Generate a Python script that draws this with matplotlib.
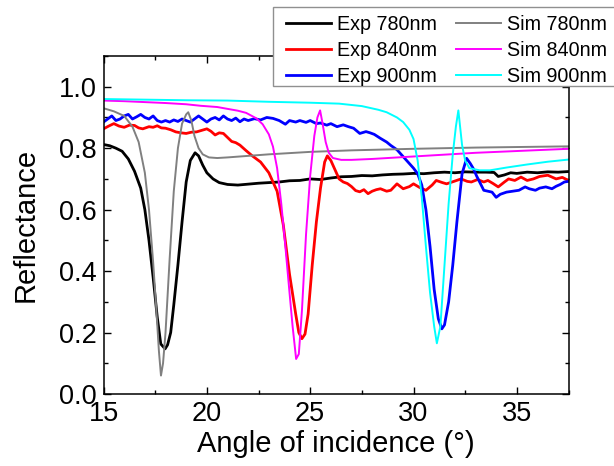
import matplotlib
matplotlib.use("Agg")
import matplotlib.pyplot as plt
from matplotlib.patches import Rectangle
from matplotlib.ticker import MultipleLocator, FormatStrFormatter

plt.rcParams['font.family'] = ['Liberation Sans', 'DejaVu Sans']

# Experimental reflectance, 780 nm
exp780_x = [15.0, 15.3, 15.6, 15.9, 16.2, 16.5, 16.8, 17.0, 17.2, 17.4, 17.6, 17.77, 17.98,
            18.1, 18.25, 18.4, 18.6, 18.8, 19.0, 19.2, 19.43, 19.6, 19.8, 20.0, 20.3, 20.6,
            21.0, 21.5, 22.0, 22.5, 23.0, 23.5, 24.0, 24.5, 25.0, 25.5, 26.0, 26.5, 27.0,
            27.5, 28.0, 28.5, 29.0, 29.5, 30.0, 30.5, 31.0, 31.5, 32.0, 32.5, 33.0, 33.5,
            33.9, 34.1, 34.4, 34.7, 35.0, 35.5, 36.0, 36.5, 37.0, 37.5]
exp780_y = [0.812, 0.808, 0.800, 0.790, 0.765, 0.725, 0.670, 0.600, 0.500, 0.380, 0.250, 0.163, 0.147,
            0.160, 0.200, 0.290, 0.420, 0.560, 0.690, 0.760, 0.785, 0.775, 0.745, 0.720, 0.700, 0.688,
            0.682, 0.680, 0.683, 0.686, 0.688, 0.690, 0.694, 0.695, 0.700, 0.698, 0.703, 0.707, 0.708,
            0.711, 0.710, 0.713, 0.715, 0.716, 0.718, 0.717, 0.720, 0.722, 0.720, 0.723, 0.722, 0.722,
            0.721, 0.708, 0.713, 0.720, 0.718, 0.722, 0.720, 0.723, 0.722, 0.724]

# Experimental reflectance, 840 nm
exp840_x = [15.0, 15.25, 15.5, 15.75, 16.0, 16.25, 16.5, 16.7, 16.9, 17.2, 17.4, 17.6, 17.8, 18.0,
            18.25, 18.5, 18.75, 19.0, 19.25, 19.5, 19.75, 20.0, 20.2, 20.4, 20.6, 20.8, 21.0,
            21.2, 21.4, 21.6, 21.9, 22.2, 22.6, 23.0, 23.4, 23.7, 24.0, 24.3, 24.45, 24.6, 24.75,
            24.9, 25.1, 25.3, 25.5, 25.7, 25.83, 26.0, 26.2, 26.4, 26.6, 26.8, 27.0, 27.2, 27.4,
            27.6, 27.8, 28.0, 28.2, 28.4, 28.7, 28.9, 29.2, 29.5, 29.8, 30.0, 30.3, 30.6, 30.9,
            31.1, 31.4, 31.6, 32.0, 32.3, 32.6, 32.8, 33.1, 33.4, 33.6, 33.85, 34.1, 34.4, 34.6,
            34.9, 35.2, 35.5, 35.8, 36.1, 36.5, 36.9, 37.2, 37.5]
exp840_y = [0.863, 0.872, 0.880, 0.872, 0.868, 0.875, 0.874, 0.866, 0.863, 0.870, 0.868, 0.873, 0.866, 0.865,
            0.860, 0.853, 0.850, 0.848, 0.852, 0.853, 0.858, 0.863, 0.855, 0.843, 0.850, 0.848, 0.835,
            0.822, 0.818, 0.810, 0.792, 0.775, 0.755, 0.720, 0.660, 0.550, 0.390, 0.260, 0.200, 0.180, 0.195,
            0.260, 0.420, 0.560, 0.670, 0.755, 0.775, 0.760, 0.730, 0.700, 0.690, 0.685, 0.675, 0.662, 0.658,
            0.665, 0.652, 0.660, 0.665, 0.668, 0.660, 0.663, 0.684, 0.668, 0.675, 0.684, 0.672, 0.663, 0.680,
            0.695, 0.688, 0.684, 0.693, 0.700, 0.692, 0.690, 0.698, 0.690, 0.695, 0.685, 0.674, 0.690, 0.700,
            0.695, 0.706, 0.695, 0.700, 0.708, 0.712, 0.700, 0.705, 0.695]

# Experimental reflectance, 900 nm
exp900_x = [15.0, 15.2, 15.4, 15.6, 15.8, 16.0, 16.2, 16.4, 16.6, 16.8, 17.0, 17.2, 17.4, 17.6,
            17.8, 18.0, 18.2, 18.4, 18.6, 18.8, 19.0, 19.2, 19.4, 19.6, 19.8, 20.0, 20.2, 20.4,
            20.6, 20.8, 21.0, 21.2, 21.4, 21.6, 21.8, 22.0, 22.3, 22.6, 22.9, 23.2, 23.5, 23.8,
            24.0, 24.3, 24.5, 24.8, 25.0, 25.3, 25.5, 25.8, 26.0, 26.3, 26.6, 26.85, 27.1, 27.4,
            27.7, 27.9, 28.1, 28.4, 28.7, 28.9, 29.2, 29.4, 29.6, 29.8, 30.0, 30.2, 30.4, 30.6,
            30.8, 31.0, 31.2, 31.37, 31.5, 31.7, 31.9, 32.1, 32.35, 32.57, 32.75, 32.9, 33.05,
            33.2, 33.4, 33.6, 33.8, 34.0, 34.2, 34.5, 34.8, 35.1, 35.4, 35.6, 35.9, 36.1, 36.4,
            36.7, 36.9, 37.1, 37.3, 37.5]
exp900_y = [0.885, 0.895, 0.905, 0.890, 0.895, 0.905, 0.910, 0.895, 0.902, 0.910, 0.900, 0.895, 0.905, 0.890,
            0.885, 0.890, 0.885, 0.892, 0.887, 0.895, 0.890, 0.885, 0.895, 0.905, 0.895, 0.885, 0.895, 0.900,
            0.892, 0.905, 0.895, 0.890, 0.898, 0.886, 0.895, 0.890, 0.896, 0.892, 0.900, 0.897, 0.890, 0.878,
            0.890, 0.885, 0.890, 0.884, 0.890, 0.880, 0.882, 0.875, 0.880, 0.870, 0.876, 0.870, 0.865, 0.848,
            0.854, 0.850, 0.845, 0.832, 0.820, 0.809, 0.795, 0.780, 0.765, 0.750, 0.735, 0.717, 0.680, 0.600,
            0.480, 0.340, 0.245, 0.212, 0.225, 0.300, 0.420, 0.560, 0.717, 0.767, 0.750, 0.733, 0.710,
            0.690, 0.663, 0.660, 0.657, 0.640, 0.650, 0.657, 0.660, 0.663, 0.674, 0.668, 0.663, 0.670, 0.674,
            0.668, 0.676, 0.682, 0.690, 0.692]

# Simulated reflectance, 780 nm
sim780_x = [15.0, 15.5, 16.0, 16.4, 16.7, 17.0, 17.2, 17.4, 17.55, 17.68, 17.78, 17.88, 18.0,
            18.2, 18.4, 18.6, 18.8, 19.0, 19.1, 19.25, 19.4, 19.6, 19.8, 20.1, 20.5, 21.0,
            22.0, 23.0, 25.0, 27.0, 30.0, 33.0, 37.5]
sim780_y = [0.930, 0.920, 0.905, 0.870, 0.820, 0.720, 0.600, 0.430, 0.280, 0.140, 0.060, 0.100, 0.200,
            0.440, 0.660, 0.800, 0.880, 0.910, 0.917, 0.890, 0.840, 0.800, 0.780, 0.770, 0.768, 0.770,
            0.775, 0.780, 0.788, 0.793, 0.798, 0.802, 0.806]

# Simulated reflectance, 840 nm
sim840_x = [15.0, 16.0, 17.0, 18.0, 19.0, 19.7, 20.5, 21.0, 21.5, 21.9, 22.4, 22.7, 23.0, 23.2,
            23.4, 23.6, 23.8, 24.0, 24.15, 24.32, 24.45, 24.6, 24.8, 25.0, 25.2, 25.35, 25.48,
            25.6, 25.75, 25.9, 26.1, 26.5, 27.0, 28.0, 30.0, 33.0, 37.5]
sim840_y = [0.955, 0.953, 0.950, 0.947, 0.943, 0.938, 0.934, 0.928, 0.922, 0.915, 0.897, 0.878, 0.845, 0.805,
            0.735, 0.620, 0.480, 0.330, 0.220, 0.114, 0.130, 0.270, 0.520, 0.710, 0.840, 0.900, 0.923,
            0.880, 0.820, 0.785, 0.768, 0.762, 0.762, 0.765, 0.773, 0.785, 0.798]

# Simulated reflectance, 900 nm
sim900_x = [15.0, 17.0, 19.0, 21.0, 23.0, 25.0, 26.4, 27.5, 28.3, 28.7, 29.2, 29.5, 29.8, 30.0,
            30.2, 30.4, 30.6, 30.8, 31.0, 31.13, 31.3, 31.5, 31.7, 31.9, 32.05, 32.17, 32.35,
            32.5, 32.7, 33.2, 33.7, 34.5, 35.5, 36.5, 37.5]
sim900_y = [0.960, 0.958, 0.956, 0.955, 0.951, 0.948, 0.945, 0.937, 0.925, 0.917, 0.900, 0.885, 0.860, 0.830,
            0.760, 0.640, 0.480, 0.330, 0.220, 0.165, 0.220, 0.420, 0.620, 0.780, 0.870, 0.923, 0.810,
            0.760, 0.735, 0.728, 0.728, 0.737, 0.747, 0.756, 0.763]

series = [
    ("Exp 780nm", exp780_x, exp780_y, "#000000", 2.0),
    ("Exp 840nm", exp840_x, exp840_y, "#ff0000", 2.0),
    ("Exp 900nm", exp900_x, exp900_y, "#0000ff", 2.0),
    ("Sim 780nm", sim780_x, sim780_y, "#808080", 1.4),
    ("Sim 840nm", sim840_x, sim840_y, "#ff00ff", 1.4),
    ("Sim 900nm", sim900_x, sim900_y, "#00ffff", 1.4),
]

W, H = 614, 466
fig = plt.figure(figsize=(W / 100, H / 100), dpi=100)
ax = fig.add_axes([0.1686, 0.1545, 0.7573, 0.7253])

handles = []
for label, xs, ys, color, lw in series:
    h, = ax.plot(xs, ys, color=color, lw=lw, label=label, solid_joinstyle='round')
    handles.append(h)

ax.set_xlim(15, 37.5)
ax.set_ylim(0.0, 1.1)
ax.xaxis.set_major_locator(MultipleLocator(5))
ax.xaxis.set_minor_locator(MultipleLocator(2.5))
ax.yaxis.set_major_locator(MultipleLocator(0.2))
ax.yaxis.set_minor_locator(MultipleLocator(0.1))
ax.yaxis.set_major_formatter(FormatStrFormatter('%.1f'))
ax.tick_params(which='both', direction='in', top=True, right=True, width=1.0, labelsize=19.5, pad=5)
ax.tick_params(which='major', length=5)
ax.tick_params(which='minor', length=3)
for s in ax.spines.values():
    s.set_linewidth(1.1)

ax.set_xlabel("Angle of incidence (°)", fontsize=21, labelpad=2)
ax.set_ylabel("Reflectance", fontsize=21, labelpad=14)

# Legend box: a white panel with a thin grey border that runs past the right edge
box_l, box_t, box_b = 272.5, 7.0, 85.5
fig.patches.append(Rectangle((box_l / W, 1 - box_b / H), (W + 10 - box_l) / W, (box_b - box_t) / H,
                             transform=fig.transFigure, facecolor='white', edgecolor='#909090',
                             linewidth=1.0, zorder=4))

leg = fig.legend(handles=handles, loc='upper left', bbox_to_anchor=(0.4479, 0.9914),
                 ncol=2, fontsize=14.2, frameon=False, handlelength=2.3, handletextpad=0.3,
                 columnspacing=0.95, labelspacing=0.36, borderpad=0.55, borderaxespad=0)
leg.set_zorder(5)

fig.savefig("out.png", dpi=100)
